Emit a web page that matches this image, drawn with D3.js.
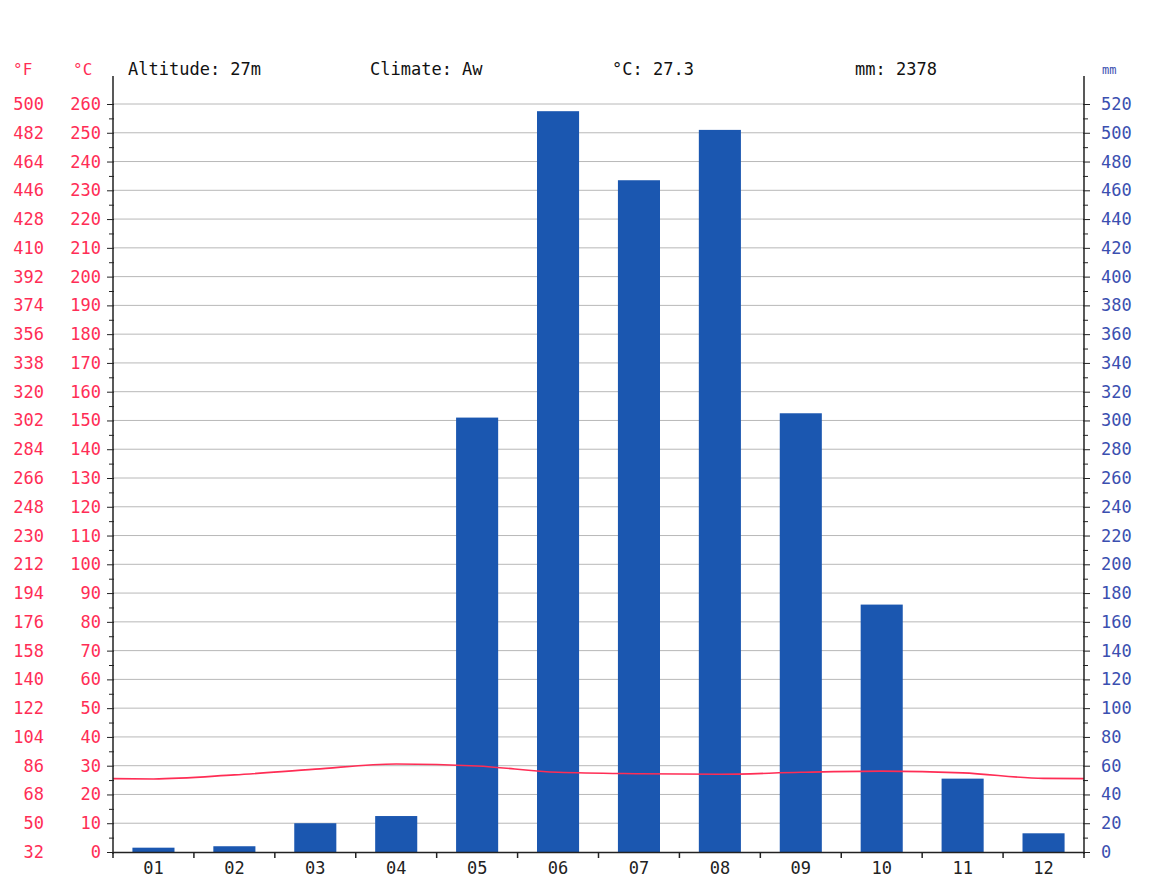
<!DOCTYPE html>
<html>
<head>
<meta charset="utf-8">
<script src="https://cdn.jsdelivr.net/npm/d3@7"></script>
<style>
  body { margin: 0; background: #fff; }
  text { font-family: "DejaVu Sans Mono", monospace; }
</style>
</head>
<body>
<script>
// climate chart data
var months = ["01","02","03","04","05","06","07","08","09","10","11","12"];
var precip = [3, 4, 20, 25, 302, 515, 467, 502, 305, 172, 51, 13];
var temp = [25.4, 26.8, 28.8, 30.6, 29.9, 27.7, 27.2, 27.0, 27.7, 28.1, 27.5, 25.6];
var header = ["Altitude: 27m", "Climate: Aw", "°C: 27.3", "mm: 2378"];
var cTicks = d3.range(0, 261, 10);

var width = 1150,
    height = 877;
var plotLeft = 113, plotRight = 1084, plotTop = 104, plotBottom = 852;

var red = "#ff2d55", blue = "#3b4fb0", bar = "#1b57b0";

var svg = d3.select("body").append("svg")
    .attr("width", width)
    .attr("height", height);

var x = d3.scaleBand().domain(months).range([plotLeft, plotRight]).paddingInner(0.48).paddingOuter(0.24);
var xb = d3.scaleBand().domain(months).range([plotLeft, plotRight]);
var yC = d3.scaleLinear().domain([0, 260]).range([plotBottom, plotTop]);
var yMM = d3.scaleLinear().domain([0, 520]).range([plotBottom, plotTop]);

//gridlines
svg.append("g").selectAll("line")
    .data(cTicks.slice(1))
    .enter().append("line")
    .attr("x1", plotLeft).attr("x2", plotRight)
    .attr("y1", function(d){ return yC(d); })
    .attr("y2", function(d){ return yC(d); })
    .attr("stroke", "#b8b8b8").attr("stroke-width", 1);

//bars
svg.append("g").selectAll("rect")
    .data(precip)
    .enter().append("rect")
    .attr("x", function(d, i){ return x(months[i]); })
    .attr("width", x.bandwidth())
    .attr("y", function(d){ return yMM(d); })
    .attr("height", function(d){ return plotBottom - yMM(d); })
    .attr("fill", bar);

//temperature line, wrapped around the year and clipped to the plot
svg.append("clipPath").attr("id", "clip")
    .append("rect").attr("x", plotLeft).attr("y", 0).attr("width", plotRight - plotLeft).attr("height", height);
var bw = xb.bandwidth();
var pts = temp.map(function(d, i){ return [xb(months[i]) + bw / 2, yC(d)]; });
pts.unshift([xb(months[0]) - bw / 2, yC(temp[11])]);
pts.push([xb(months[11]) + bw * 1.5, yC(temp[0])]);
svg.append("path")
    .datum(pts)
    .attr("clip-path", "url(#clip)")
    .attr("fill", "none")
    .attr("stroke", red)
    .attr("stroke-width", 1.6)
    .attr("d", d3.line().curve(d3.curveMonotoneX));

//left axis (°C) with minor ticks
svg.append("g")
    .attr("transform", "translate(" + plotLeft + ",0)")
    .call(d3.axisLeft(yC).tickValues(d3.range(0, 261, 5)).tickSize(5).tickFormat(""))
    .call(function(g){
        g.select(".domain").remove();
        g.selectAll("line").attr("stroke", "#222").attr("x2", function(d){ return d % 10 ? -4 : -6; }).attr("x1", 1);
    });
svg.append("line").attr("x1", plotLeft).attr("x2", plotLeft).attr("y1", 76).attr("y2", plotBottom + 2)
    .attr("stroke", "#222").attr("stroke-width", 1.5);

var cLab = svg.append("g").attr("fill", red).attr("font-size", 17).attr("text-anchor", "end");
cLab.selectAll(".c").data(cTicks).enter().append("text")
    .attr("class", "c")
    .attr("x", 101)
    .attr("y", function(d){ return yC(d) + 6; })
    .text(function(d){ return d; });
cLab.selectAll(".f").data(cTicks).enter().append("text")
    .attr("class", "f")
    .attr("x", 44)
    .attr("y", function(d){ return yC(d) + 6; })
    .text(function(d){ return Math.round(d * 9 / 5 + 32); });
svg.append("text").attr("x", 13).attr("y", 75).attr("fill", red).attr("font-size", 16).text("°F");
svg.append("text").attr("x", 73).attr("y", 75).attr("fill", red).attr("font-size", 16).text("°C");

//right axis (mm)
svg.append("g")
    .attr("transform", "translate(" + plotRight + ",0)")
    .call(d3.axisRight(yMM).tickValues(d3.range(0, 521, 10)).tickSize(5).tickFormat(""))
    .call(function(g){
        g.select(".domain").remove();
        g.selectAll("line").attr("stroke", "#222").attr("x2", function(d){ return d % 20 ? 4 : 6; }).attr("x1", -1);
    });
svg.append("line").attr("x1", plotRight).attr("x2", plotRight).attr("y1", 76).attr("y2", plotBottom + 2)
    .attr("stroke", "#222").attr("stroke-width", 1.5);
svg.append("g").attr("fill", blue).attr("font-size", 17)
    .selectAll("text").data(d3.range(0, 521, 20)).enter().append("text")
    .attr("x", 1101)
    .attr("y", function(d){ return yMM(d) + 6; })
    .text(function(d){ return d; });
svg.append("text").attr("x", 1102).attr("y", 74).attr("fill", blue).attr("font-size", 12).text("mm");

//bottom axis
svg.append("g")
    .attr("transform", "translate(0," + plotBottom + ")")
    .call(d3.axisBottom(xb).tickSize(0).tickPadding(10))
    .call(function(g){
        g.select(".domain").attr("stroke", "#222").attr("stroke-width", 1.5);
        g.selectAll("text").attr("font-size", 17).attr("fill", "#222")
            .attr("font-family", "DejaVu Sans Mono");
    });
svg.append("g").selectAll("line")
    .data(d3.range(0, 13))
    .enter().append("line")
    .attr("x1", function(d){ return plotLeft + d * bw; })
    .attr("x2", function(d){ return plotLeft + d * bw; })
    .attr("y1", plotBottom).attr("y2", plotBottom + 6)
    .attr("stroke", "#222").attr("stroke-width", 1.5);

//header
var hx = [128, 370, 612, 855];
svg.append("g").attr("font-size", 17).attr("fill", "#111")
    .selectAll("text").data(header).enter().append("text")
    .attr("x", function(d, i){ return hx[i]; })
    .attr("y", 75)
    .text(function(d){ return d; });
</script>
</body>
</html>
